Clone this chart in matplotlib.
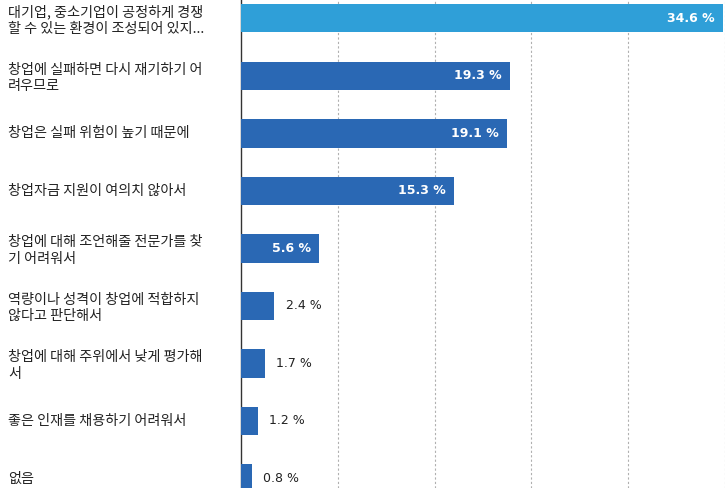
import matplotlib
matplotlib.use("Agg")
import matplotlib.pyplot as plt
import numpy as np

plt.rcParams['font.family'] = ['Noto Sans CJK KR', 'DejaVu Sans']

categories = [
    "대기업, 중소기업이 공정하게 경쟁\n할 수 있는 환경이 조성되어 있지...",
    "창업에 실패하면 다시 재기하기 어\n려우므로",
    "창업은 실패 위험이 높기 때문에",
    "창업자금 지원이 여의치 않아서",
    "창업에 대해 조언해줄 전문가를 찾\n기 어려워서",
    "역량이나 성격이 창업에 적합하지\n않다고 판단해서",
    "창업에 대해 주위에서 낮게 평가해\n서",
    "좋은 인재를 채용하기 어려워서",
    "없음",
]
values = [34.6, 19.3, 19.1, 15.3, 5.6, 2.4, 1.7, 1.2, 0.8]
value_labels = ["34.6 %", "19.3 %", "19.1 %", "15.3 %", "5.6 %", "2.4 %", "1.7 %", "1.2 %", "0.8 %"]

W, H = 725, 488
fig = plt.figure(figsize=(W / 100, H / 100), dpi=100)
ax_left = 241 / W
ax = fig.add_axes([ax_left, 0, 1 - ax_left, 1])

xmax = 34.75
y = np.arange(len(values))
colors = ['#2f9fd8'] + ['#2a68b4'] * (len(values) - 1)
ax.barh(y, values, height=0.49, color=colors, zorder=3)

ax.set_xlim(0, xmax)
ax.set_ylim(8.165, -0.32)
ax.set_xticks(np.linspace(0, xmax, 6)[1:])
ax.set_yticks([])
ax.tick_params(axis='x', length=0, labelbottom=False)
ax.grid(axis='x', color='#b0b0b0', linestyle=(0, (2, 2)), linewidth=0.8, zorder=0)
for s in ['top', 'right', 'bottom']:
    ax.spines[s].set_visible(False)
ax.spines['left'].set_color('#333333')
ax.spines['left'].set_linewidth(1.0)

for i, (v, lab) in enumerate(zip(values, value_labels)):
    if v > 4:
        ax.annotate(lab, (v, i), xytext=(-6, 0), textcoords='offset points',
                    ha='right', va='center', color='white', fontsize=9,
                    fontweight='bold', family=['DejaVu Sans'], zorder=4)
    else:
        ax.annotate(lab, (v, i), xytext=(8, 0), textcoords='offset points',
                    ha='left', va='center', color='#222222', fontsize=9,
                    family=['DejaVu Sans'], zorder=4)

for i, cat in enumerate(categories):
    yy = ax.transData.transform((0, i))[1]
    if "\n" in cat:
        yy -= 2
    fig.text(8 / W, yy / H, cat, ha='left', va='center', fontsize=10.2,
             color='#222222', linespacing=1.2)

fig.savefig("out.png", dpi=100)
